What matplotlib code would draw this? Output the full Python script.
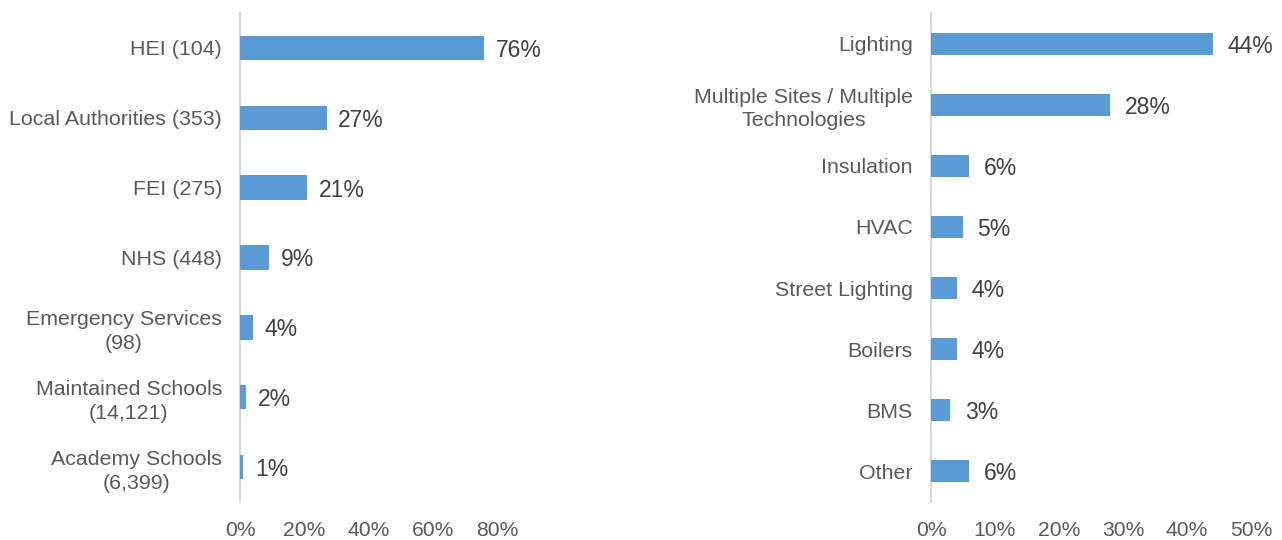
import matplotlib.pyplot as plt
from matplotlib.ticker import PercentFormatter

plt.rcParams['font.family'] = ['Liberation Sans', 'DejaVu Sans']

# Left panel: share by organisation type
org_labels = ['HEI (104)', 'Local Authorities (353)', 'FEI (275)', 'NHS (448)',
              'Emergency Services\n(98)', 'Maintained Schools\n(14,121)',
              'Academy Schools\n(6,399)']
org_values = [76, 27, 21, 9, 4, 2, 1]
org_ticks = [0, 20, 40, 60, 80]

# Right panel: share by technology
tech_labels = ['Lighting', 'Multiple Sites / Multiple\nTechnologies', 'Insulation',
               'HVAC', 'Street Lighting', 'Boilers', 'BMS', 'Other']
tech_values = [44, 28, 6, 5, 4, 4, 3, 6]
tech_ticks = [0, 10, 20, 30, 40, 50]

bar_color = '#5B9BD5'
label_color = '#595959'
value_color = '#404040'

fig = plt.figure(figsize=(12.82, 5.40), dpi=100)
ax1 = fig.add_axes([240 / 1282, 1 - 502 / 540, 257 / 1282, 489 / 540])
ax2 = fig.add_axes([931 / 1282, 1 - 502 / 540, 320 / 1282, 489 / 540])


def draw_panel(ax, labels, values, ticks, height):
    y = list(range(len(labels)))
    ax.barh(y, values, height=height, color=bar_color)
    ax.set_ylim(len(labels) - 0.5, -0.5)
    ax.set_xlim(ticks[0], ticks[-1])
    ax.set_yticks(y)
    ax.set_yticklabels(labels, fontsize=15.4, color=label_color,
                       multialignment='center', linespacing=1.32)
    ax.set_xticks(ticks)
    ax.xaxis.set_major_formatter(PercentFormatter(decimals=0))
    ax.tick_params(axis='x', length=0, pad=14, labelsize=15.2, labelcolor=label_color)
    ax.tick_params(axis='y', length=0, pad=13)
    for s in ['top', 'right', 'bottom']:
        ax.spines[s].set_visible(False)
    ax.spines['left'].set_color('#d9d9d9')
    ax.spines['left'].set_linewidth(1.5)
    ax.spines['left'].set_zorder(0)
    span = ticks[-1] - ticks[0]
    for yi, v in zip(y, values):
        ax.text(v + span * 0.045, yi, f'{v}%', va='center_baseline', ha='left',
                fontsize=16.5, color=value_color, clip_on=False)


draw_panel(ax1, org_labels, org_values, org_ticks, 0.35)
draw_panel(ax2, tech_labels, tech_values, tech_ticks, 0.36)

fig.savefig('out.png', dpi=100)
